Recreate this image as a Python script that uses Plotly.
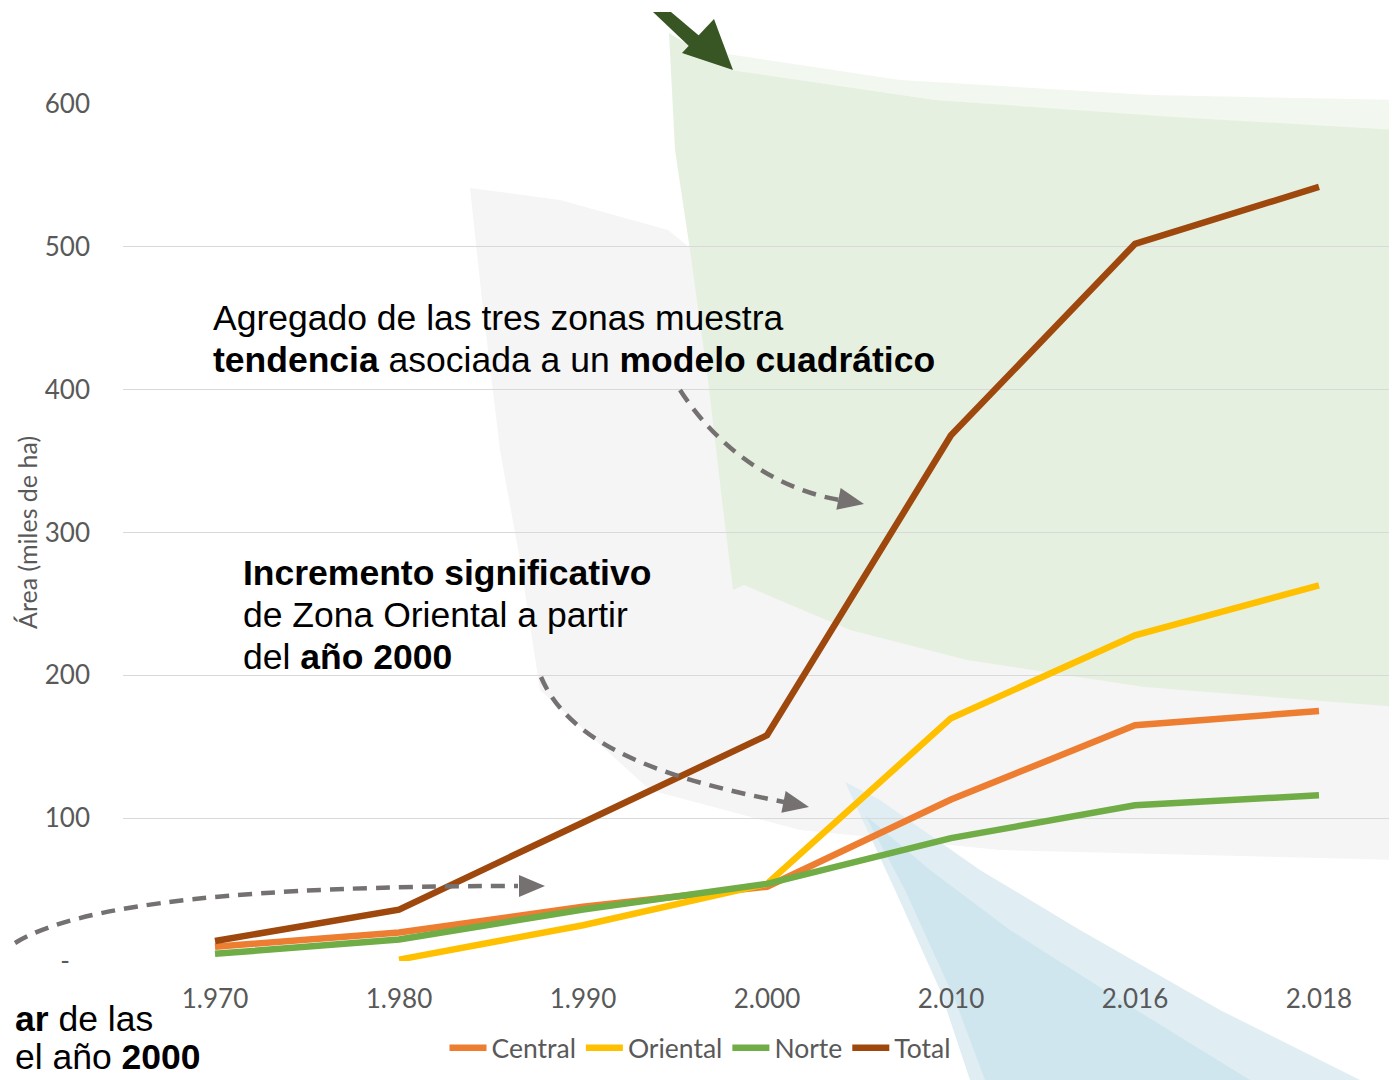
import math
import plotly.graph_objects as go

# ---------------- data ----------------
years = ["1.970", "1.980", "1.990", "2.000", "2.010", "2.016", "2.018"]
central = [10, 20, 38, 52, 113, 165, 175]
oriental = [None, 1, 25, 54, 170, 228, 263]
norte = [5, 15, 36, 54, 86, 109, 116]
total = [14, 36, 97, 158, 368, 502, 542]

y_ticks = [0, 100, 200, 300, 400, 500, 600]
y_ticktext = ["-\u00a0\u00a0\u00a0", "100", "200", "300", "400", "500", "600"]

series_names = ["Central", "Oriental", "Norte", "Total"]
series_values = [central, oriental, norte, total]
series_colors = ["#ED7D31", "#FFC000", "#70AD47", "#9E480E"]

# ---------------- layout helpers ----------------
# page is shown with an 8px body margin; figure sized so it ends at the window edge
OFF = 8
W, H = 1397 - OFF, 1080 - OFF
# plot area in page pixels
L, R, T, B = 123, 1397, 104, 961


def X(px):
    return (px - L) / (R - L)


def Y(py):
    return (B - py) / (B - T)


def poly(pts):
    return "M " + " L ".join(f"{X(x):.5f},{Y(y):.5f}" for x, y in pts) + " Z"


def cubic(p0, p1, p2, p3):
    return (f"M {X(p0[0]):.5f},{Y(p0[1]):.5f} C {X(p1[0]):.5f},{Y(p1[1]):.5f} "
            f"{X(p2[0]):.5f},{Y(p2[1]):.5f} {X(p3[0]):.5f},{Y(p3[1]):.5f}")


def head(tip, d, length=26, half=11):
    n = math.hypot(*d)
    ux, uy = d[0] / n, d[1] / n
    bx, by = tip[0] - length * ux, tip[1] - length * uy
    px_, py_ = -uy, ux
    return poly([tip, (bx + half * px_, by + half * py_), (bx - half * px_, by - half * py_)])


fig = go.Figure()

for name, vals, col in zip(series_names, series_values, series_colors):
    fig.add_trace(go.Scatter(
        x=years, y=vals, name=name, mode="lines",
        line=dict(color=col, width=6.5),
        connectgaps=False, hoverinfo="skip",
    ))

shapes = []
# background decoration: gray sweep
shapes.append(dict(type="path", xref="paper", yref="paper", layer="below",
                   path=poly([(470, 188), (560, 200), (668, 230), (900, 420), (1397, 700),
                              (1397, 860), (1000, 850), (800, 830), (650, 790), (540, 690),
                              (520, 560), (500, 450), (482, 300)]),
                   fillcolor="#F5F5F5", line=dict(width=0)))
# green sweep (light top band)
shapes.append(dict(type="path", xref="paper", yref="paper", layer="below",
                   path=poly([(700, 50), (900, 80), (1150, 95), (1397, 100), (1397, 135),
                              (1174, 118), (936, 100), (731, 70)]),
                   fillcolor="#F2F7EF", line=dict(width=0)))
# green sweep (main)
shapes.append(dict(type="path", xref="paper", yref="paper", layer="below",
                   path=poly([(669, 33), (731, 70), (936, 100), (1174, 117), (1397, 130),
                              (1397, 707), (1144, 687), (967, 660), (850, 630), (744, 585),
                              (733, 590), (722, 500), (708, 380), (690, 250), (675, 150)]),
                   fillcolor="#E6F0E0", line=dict(width=0)))
# blue sweep (outer, faint)
shapes.append(dict(type="path", xref="paper", yref="paper", layer="below",
                   path=poly([(845, 782), (880, 800), (980, 870), (1080, 930), (1220, 1010),
                              (1360, 1080), (970, 1080), (940, 990), (895, 890)]),
                   fillcolor="#E0EEF4", line=dict(width=0)))
# blue sweep (inner)
shapes.append(dict(type="path", xref="paper", yref="paper", layer="below",
                   path=poly([(865, 815), (930, 870), (1010, 930), (1120, 1000), (1250, 1080),
                              (985, 1080), (955, 1000), (905, 890)]),
                   fillcolor="#CFE6EF", line=dict(width=0)))

# dark green arrow at the top
shapes.append(dict(type="path", xref="paper", yref="paper", layer="above",
                   path=poly([(653, 12), (671, 12), (703, 39), (691, 48)]),
                   fillcolor="#375623", line=dict(width=0)))
shapes.append(dict(type="path", xref="paper", yref="paper", layer="above",
                   path=poly([(682, 53), (714, 19), (733, 70)]),
                   fillcolor="#375623", line=dict(width=0)))

# dashed gray arrows
dash_line = dict(color="#757171", width=4.5, dash="14px,9px")
shapes.append(dict(type="path", xref="paper", yref="paper", layer="above",
                   path=cubic((680, 390), (720, 452), (780, 490), (840, 500)), line=dash_line))
shapes.append(dict(type="path", xref="paper", yref="paper", layer="above",
                   path=head((864, 504), (25, 5)), fillcolor="#757171", line=dict(width=0)))

shapes.append(dict(type="path", xref="paper", yref="paper", layer="above",
                   path=cubic((541, 677), (570, 745), (660, 778), (784, 802)), line=dash_line))
shapes.append(dict(type="path", xref="paper", yref="paper", layer="above",
                   path=head((809, 807), (25, 5)), fillcolor="#757171", line=dict(width=0)))

shapes.append(dict(type="path", xref="paper", yref="paper", layer="above",
                   path=cubic((15, 943), (80, 903), (250, 886), (518, 886)), line=dash_line))
shapes.append(dict(type="path", xref="paper", yref="paper", layer="above",
                   path=head((545, 886), (1, 0)), fillcolor="#757171", line=dict(width=0)))

txt_font = dict(family="Liberation Sans, Arial, sans-serif", size=35.5, color="#000000")
text_lines = [
    (211, 318, "Agregado de las tres zonas muestra"),
    (211, 360, "<b>tendencia</b> asociada a un <b>modelo cuadrático</b>"),
    (241, 573, "<b>Incremento significativo</b>"),
    (241, 615, "de Zona Oriental a partir"),
    (241, 657, "del <b>año 2000</b>"),
    (13, 1019, "<b>ar</b> de las"),
    (13, 1057, "el año <b>2000</b>"),
]
annotations = [
    dict(xref="paper", yref="paper", x=X(px), y=Y(py), xanchor="left", yanchor="middle",
         align="left", showarrow=False, font=txt_font, text=t)
    for px, py, t in text_lines
]
annotations.append(
    dict(xref="paper", yref="paper", x=X(27), y=Y(533), xanchor="center", yanchor="middle",
         textangle=-90, showarrow=False,
         font=dict(family="Lato, sans-serif", size=25, color="#595959"),
         text="Área (miles de ha)"))

tick_font = dict(family="Lato, sans-serif", size=26, color="#595959")

fig.update_layout(
    width=W, height=H,
    margin=dict(l=L - OFF, r=W - (R - OFF), t=T - OFF, b=H - (B - OFF), autoexpand=False),
    paper_bgcolor="white",
    plot_bgcolor="rgba(0,0,0,0)",
    shapes=shapes,
    annotations=annotations,
    showlegend=True,
    legend=dict(orientation="h", x=X(700), xanchor="center", y=Y(1048), yanchor="middle",
                font=dict(family="Lato, sans-serif", size=26.5, color="#595959"),
                bgcolor="rgba(0,0,0,0)", itemwidth=37, traceorder="normal"),
    hovermode=False,
    xaxis=dict(type="category", categoryorder="array", categoryarray=years,
               range=[-0.5, 6.424], showgrid=False, zeroline=False, showline=False,
               ticks="", tickfont=tick_font, ticklabelstandoff=20, fixedrange=True),
    yaxis=dict(range=[0, 600], tickvals=y_ticks, ticktext=y_ticktext,
               showgrid=True, gridcolor="#D9D9D9", gridwidth=1.2,
               zeroline=False, showline=False, ticks="", tickfont=tick_font,
               ticklabelstandoff=32, fixedrange=True),
)

fig.write_html("out.html", config={"displayModeBar": False})
